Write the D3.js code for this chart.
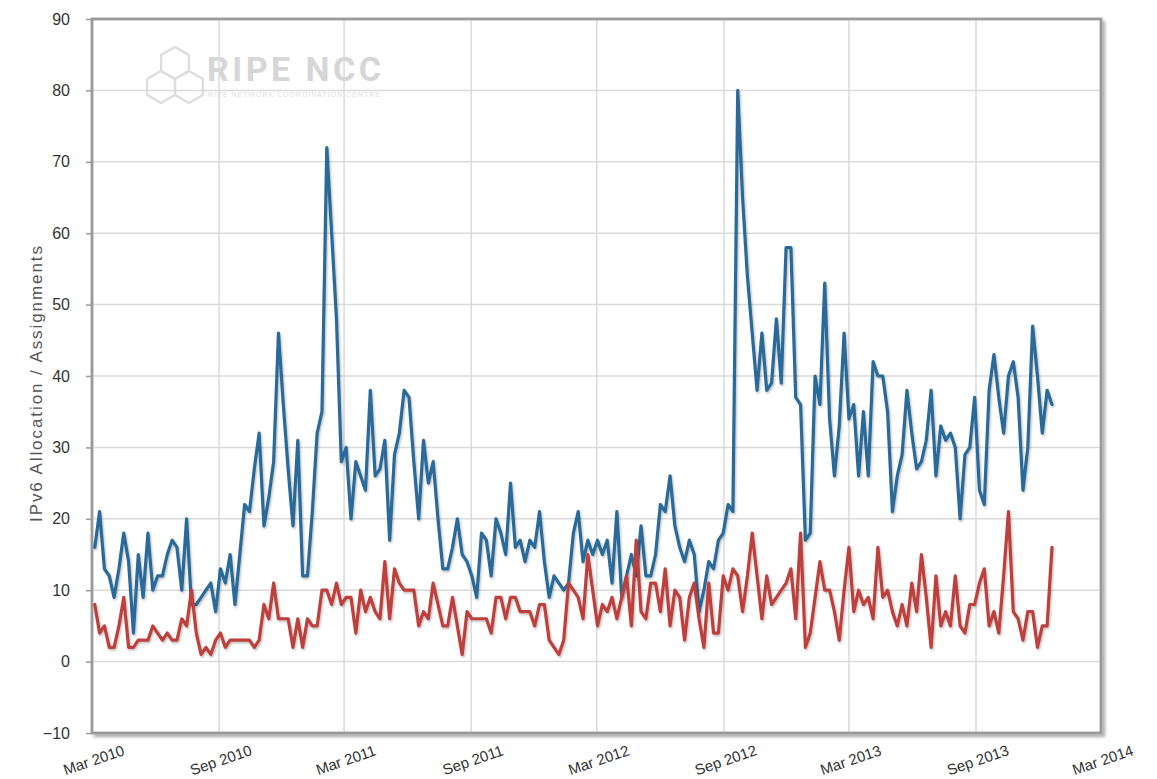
<!DOCTYPE html>
<html><head><meta charset="utf-8">
<script src="https://cdn.jsdelivr.net/npm/d3@7"></script>
<style>
html,body{margin:0;padding:0;background:#fff;}
svg{display:block;}
</style></head>
<body>
<svg id="chart" width="1157" height="779"></svg>
<script>
// ---- data ----
const startDate = "2010-03-05";           // first weekly observation
const allocations = [16,21,13,12,9,13,18,14,4,15,9,18,10,12,12,15,17,16,10,20,
8,8,9,10,11,7,13,11,15,8,15,22,21,27,32,19,23,28,46,36,
27,19,31,12,12,21,32,35,72,60,48,28,30,20,28,26,24,38,26,27,
31,17,29,32,38,37,28,20,31,25,28,20,13,13,16,20,15,14,12,9,
18,17,12,20,18,15,25,16,17,14,17,16,21,14,9,12,11,10,11,18,
21,14,17,15,17,15,17,11,21,9,12,15,12,19,12,12,15,22,21,26,
19,16,14,17,15,7,10,14,13,17,18,22,21,80,65,54,46,38,46,38,
39,48,39,58,58,37,36,17,18,40,36,53,34,26,33,46,34,36,26,35,
26,42,40,40,35,21,26,29,38,32,27,28,31,38,26,33,31,32,30,20,
29,30,37,24,22,38,43,37,32,40,42,37,24,30,47,40,32,38,36];
const assignments = [8,4,5,2,2,5,9,2,2,3,3,3,5,4,3,4,3,3,6,5,
10,4,1,2,1,3,4,2,3,3,3,3,3,2,3,8,6,11,6,6,
6,2,6,2,6,5,5,10,10,8,11,8,9,9,4,10,7,9,7,6,
14,6,13,11,10,10,10,5,7,6,11,8,5,5,9,5,1,7,6,6,
6,6,4,9,9,6,9,9,7,7,7,5,8,8,3,2,1,3,11,10,
9,6,15,10,5,8,7,9,6,9,12,5,17,7,6,11,11,7,13,5,
10,9,3,9,11,6,2,11,4,4,12,10,13,12,7,12,18,12,6,12,
8,9,10,11,13,6,18,2,4,9,14,10,10,7,3,10,16,7,10,8,
9,6,16,9,10,7,5,8,5,11,7,15,9,2,12,5,7,5,12,5,
4,8,8,11,13,5,7,4,12,21,7,6,3,7,7,2,5,5,16];
const yTicks = [-10,0,10,20,30,40,50,60,70,80,90];
const xTickLabels = ["Mar 2010","Sep 2010","Mar 2011","Sep 2011","Mar 2012","Sep 2012","Mar 2013","Sep 2013","Mar 2014"];
const yTitle = "IPv6 Allocation / Assignments";
const seriesColors = ["#2b6a99","#be403c"];

// ---- build ----
const parse = d3.timeParse("%Y-%m-%d");
const d0 = parse(startDate);
const dates = allocations.map((_, i) => d3.timeDay.offset(d0, i * 7));
const tickDates = xTickLabels.map(s => d3.timeParse("%b %Y")(s));

const svg = d3.select("#chart");
const L = 92, R = 1101, T = 19, B = 733;

const x = d3.scaleTime().domain([tickDates[0], tickDates[tickDates.length - 1]]).range([L, R]);
const y = d3.scaleLinear().domain([-10, 90]).range([B, T]);

const defs = svg.append("defs");
const sh = defs.append("filter").attr("id", "lineShadow").attr("x", "-5%").attr("y", "-5%").attr("width", "110%").attr("height", "110%");
sh.append("feDropShadow").attr("dx", 1).attr("dy", 1.5).attr("stdDeviation", 1).attr("flood-color", "#000").attr("flood-opacity", 0.28);
const fs = defs.append("filter").attr("id", "frameShadow").attr("x", "-2%").attr("y", "-2%").attr("width", "104%").attr("height", "104%");
fs.append("feDropShadow").attr("dx", 3).attr("dy", 3).attr("stdDeviation", 1.5).attr("flood-color", "#000").attr("flood-opacity", 0.3);

// frame with shadow
svg.append("rect").attr("x", L).attr("y", T).attr("width", R - L).attr("height", B - T)
  .attr("fill", "#fff").attr("stroke", "#9a9a9a").attr("stroke-width", 2.5)
  .attr("filter", "url(#frameShadow)");

// watermark logo
const logo = svg.append("g").attr("class", "logo");
const hex = (cx, cy, r) => d3.range(6).map(k => {
  const a = Math.PI / 180 * (60 * k - 90);
  return [cx + r * Math.cos(a), cy + r * Math.sin(a)];
});
[[175, 63], [161, 87], [189, 87]].forEach(c => {
  logo.append("polygon").attr("points", hex(c[0], c[1], 16).map(p => p.join(",")).join(" "))
    .attr("fill", "none").attr("stroke", "#dcdcdc").attr("stroke-width", 2.2);
});
logo.append("text").attr("x", 207).attr("y", 81).text("RIPE NCC")
  .attr("font-family", "Roboto, 'Liberation Sans', sans-serif").attr("font-weight", 700)
  .attr("font-size", 34).attr("fill", "#d6d6d6").attr("textLength", 174);
logo.append("text").attr("x", 208).attr("y", 97).text("RIPE NETWORK COORDINATION CENTRE")
  .attr("font-family", "'Liberation Sans', sans-serif").attr("font-size", 7)
  .attr("fill", "#dddddd").attr("textLength", 172);

// grid
const grid = svg.append("g");
grid.selectAll("line.h").data(yTicks.filter(v => v > -10 && v < 90)).join("line")
  .attr("x1", L).attr("x2", R).attr("y1", d => y(d)).attr("y2", d => y(d))
  .attr("stroke", "#dadada").attr("stroke-width", 1.5);
grid.selectAll("line.v").data(tickDates.slice(1, -1)).join("line")
  .attr("y1", T).attr("y2", B).attr("x1", d => x(d)).attr("x2", d => x(d))
  .attr("stroke", "#dadada").attr("stroke-width", 1.5);

// frame lines again on top of grid
svg.append("rect").attr("x", L).attr("y", T).attr("width", R - L).attr("height", B - T)
  .attr("fill", "none").attr("stroke", "#9a9a9a").attr("stroke-width", 2.5);

// y axis
const yAxis = d3.axisLeft(y).tickValues(yTicks).tickSize(6).tickPadding(16).tickFormat(d3.format("d"));
const ya = svg.append("g").attr("transform", `translate(${L},0)`).call(yAxis);
ya.select(".domain").remove();
ya.selectAll("line").attr("stroke", "#9a9a9a").attr("stroke-width", 1.5);
ya.selectAll("text").attr("font-family", "'Liberation Sans', Arial, sans-serif")
  .attr("font-size", 16).attr("fill", "#333");

// x axis
const xAxis = d3.axisBottom(x).tickValues(tickDates).tickSize(0).tickFormat((d, i) => xTickLabels[i]);
const xa = svg.append("g").attr("transform", `translate(0,${B})`).call(xAxis);
xa.select(".domain").remove();
xa.selectAll("text")
  .attr("font-family", "'Liberation Sans', Arial, sans-serif").attr("font-size", 15).attr("fill", "#333")
  .attr("text-anchor", "middle").attr("dy", 0).attr("y", 0)
  .attr("transform", "translate(3,32) rotate(-19)");

// y title
svg.append("text").attr("transform", `translate(42,384) rotate(-90)`)
  .attr("text-anchor", "middle").text(yTitle)
  .attr("font-family", "'Liberation Sans Narrow', 'Liberation Sans', sans-serif")
  .attr("font-size", 17).attr("fill", "#555").attr("textLength", 276);

// lines
const line = d3.line().x((d, i) => x(dates[i])).y(d => y(d));
[allocations, assignments].forEach((s, k) => {
  svg.append("path").datum(s).attr("d", line)
    .attr("fill", "none").attr("stroke", seriesColors[k]).attr("stroke-width", 3.2)
    .attr("stroke-linejoin", "round").attr("stroke-linecap", "round")
    .attr("filter", "url(#lineShadow)");
});
</script>
</body></html>
